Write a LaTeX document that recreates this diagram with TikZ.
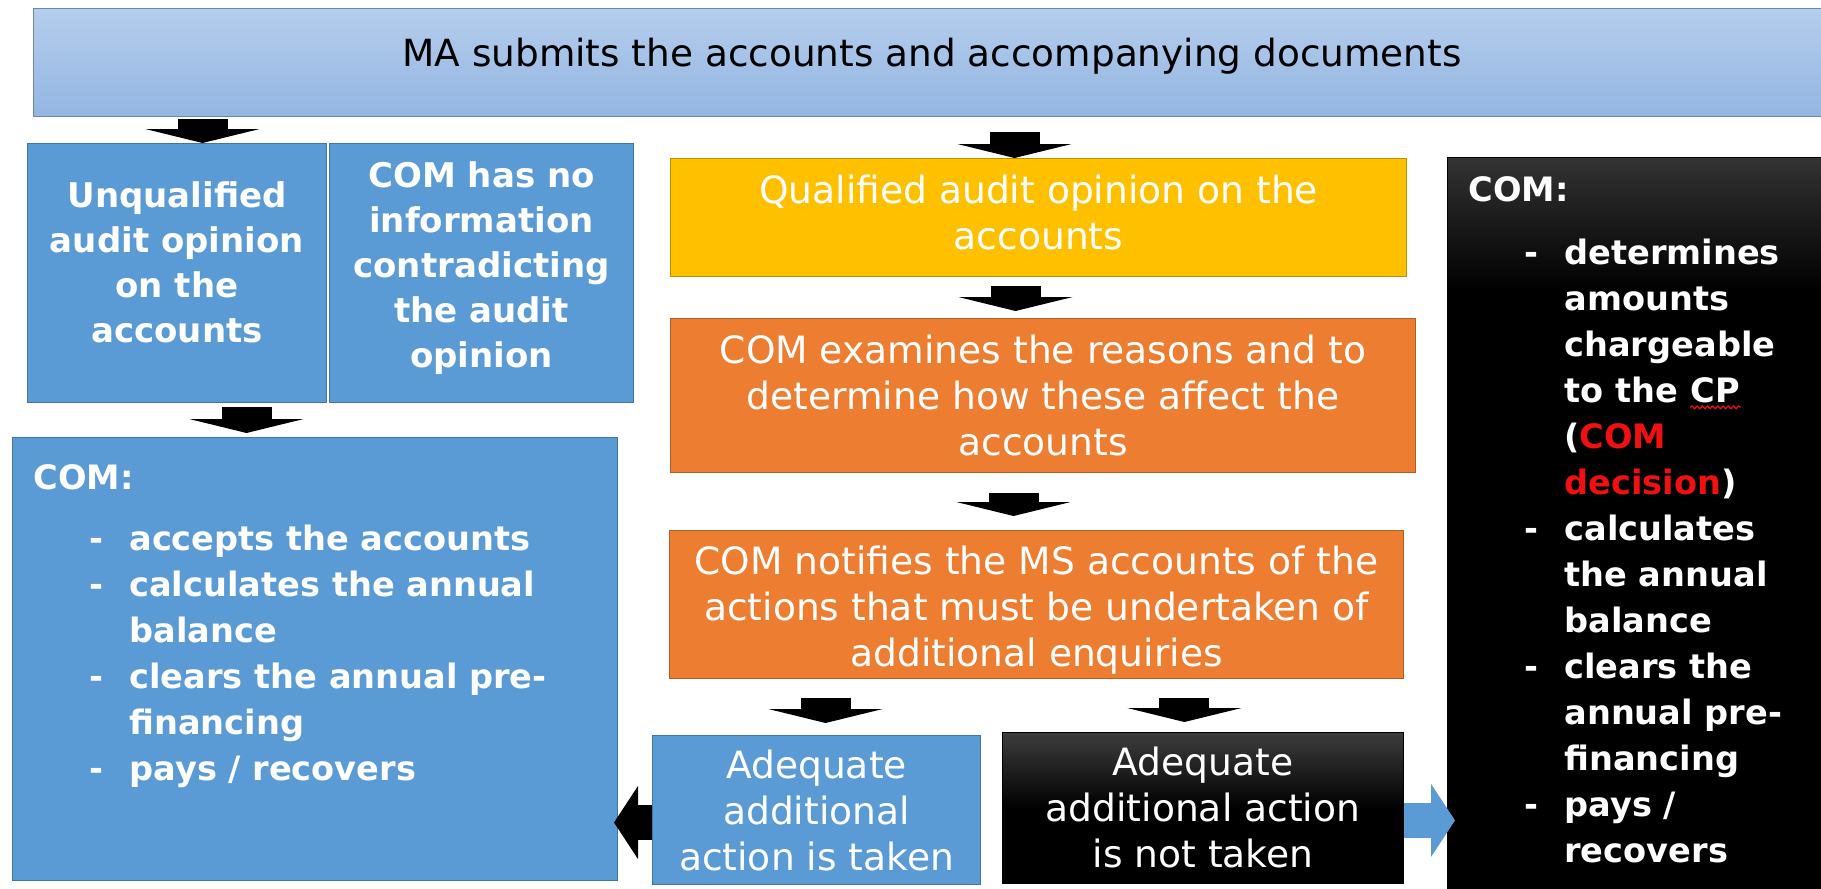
\documentclass[tikz,border=0pt]{standalone}
\usepackage{fontspec}
\setmainfont{DejaVu Sans}
\usetikzlibrary{arrows.meta,positioning,calc,decorations.pathmorphing}

\definecolor{stepblue}{HTML}{5B9BD5}
\definecolor{stepyellow}{HTML}{FFC000}
\definecolor{steporange}{HTML}{ED7D31}
\definecolor{bannertop}{HTML}{B5CDEC}
\definecolor{bannerbot}{HTML}{93B6E2}
\definecolor{comred}{HTML}{F01010}

\pgfdeclareverticalshading{halfdark}{100bp}{color(0bp)=(black); color(50bp)=(black);
  color(75bp)=(black!76); color(100bp)=(black!76)}
\pgfdeclareverticalshading{topdark}{100bp}{color(0bp)=(black); color(66bp)=(black);
  color(75bp)=(black!80); color(100bp)=(black!80)}

\newcommand{\dashitem}{\hspace*{28pt}\makebox[20pt][l]{-}}
\newcommand{\dashcont}{\hspace*{48pt}}
\newcommand{\spellmark}[1]{\tikz[baseline=(cpword.base)]{
  \node[inner sep=0pt, text=white] (cpword) {#1};
  \draw[comred, line width=0.6pt, decorate, decoration={snake, amplitude=0.7pt, segment length=2.6pt}]
    ([yshift=-2.5pt]cpword.base west) -- ([yshift=-2.5pt]cpword.base east);}}

\tikzset{
  stepbox/.style={draw=#1!75!black, fill=#1, line width=0.5pt, inner sep=0pt,
    anchor=north west, text=white, align=center},
  darkbox/.style={draw=black, shading=#1, inner sep=0pt, anchor=north west,
    text=white, align=center},
  boxtext/.style={text=white, align=center, inner sep=0pt},
  midtext/.style={font=\fontsize{18.8pt}{23pt}\selectfont},
  sidetext/.style={font=\fontsize{17pt}{22.5pt}\selectfont\bfseries},
  listtext/.style={font=\fontsize{16.8pt}{23pt}\selectfont\bfseries, text=white,
    align=left, anchor=north west, inner sep=0pt},
  downarrow/.style={draw=black, line width=25pt, -{Triangle[width=57pt,length=7pt]}},
  sidearrow/.style={draw=#1, line width=17.5pt, -{Triangle[width=36pt,length=12pt]}},
}

\begin{document}
\begin{tikzpicture}[x=0.5pt, y=-0.5pt]

    \path[use as bounding box, fill=white] (0,0) rectangle (1821,889);
    \clip (0,0) rectangle (1821,889);

    \node[stepbox=bannerbot, top color=bannertop, bottom color=bannerbot, text=black,
      minimum width=898.5pt, minimum height=54pt,
      font=\fontsize{18.7pt}{22pt}\selectfont] (submit) at (33,8)
      {\raisebox{10pt}{MA submits the accounts and accompanying documents}};

    \node[stepbox=stepblue, minimum width=149.5pt, minimum height=129.5pt] (unqualified) at (27,143) {};
    \node[boxtext, sidetext] (unqtext) at ([yshift=5.5pt]unqualified.center)
      {Unqualified\\audit opinion\\on the\\accounts};
    \node[stepbox=stepblue, minimum width=152pt, minimum height=129.5pt] (noinfo) at (329,143) {};
    \node[boxtext, sidetext] (noinfotext) at ([yshift=2.5pt]noinfo.center)
      {COM has no\\information\\contradicting\\the audit\\opinion};

    \node[stepbox=stepblue, minimum width=302.5pt, minimum height=221.5pt] (accepts) at (12,437) {};
    \node[listtext] (acceptlist) at (33,464)
      {COM:\\[7.5pt]
       \dashitem accepts the accounts\\
       \dashitem calculates the annual\\
       \dashcont balance\\
       \dashitem clears the annual pre-\\
       \dashcont financing\\
       \dashitem pays / recovers};

    \node[stepbox=stepyellow, minimum width=368pt, minimum height=59pt] (qualified) at (670,158) {};
    \node[boxtext, midtext] (qualtext) at ([yshift=2.5pt]qualified.center)
      {Qualified audit opinion on the\\accounts};
    \node[stepbox=steporange, midtext, minimum width=372.5pt, minimum height=77pt]
      (examine) at (670,318) {COM examines the reasons and to\\determine how these affect the\\accounts};
    \node[stepbox=steporange, minimum width=367pt, minimum height=74pt] (notify) at (669,530) {};
    \node[boxtext, midtext] (notifytext) at ([yshift=-3pt]notify.center)
      {COM notifies the MS accounts of the\\actions that must be undertaken of\\additional enquiries};
    \node[stepbox=stepblue, midtext, minimum width=164pt, minimum height=74.5pt]
      (taken) at (652,735) {Adequate\\additional\\action is taken};
    \node[darkbox=halfdark, midtext, minimum width=200.5pt, minimum height=75.5pt]
      (nottaken) at (1002,732) {Adequate\\additional action\\is not taken};

    \node[darkbox=topdark, minimum width=191.5pt, minimum height=369pt] (charge) at (1447,157) {};
    \node[listtext] (chargelist) at (1468,176)
      {COM:\\[8.5pt]
       \dashitem determines\\
       \dashcont amounts\\
       \dashcont chargeable\\
       \dashcont to the \spellmark{CP}\\
       \dashcont (\textcolor{comred}{COM}\\
       \dashcont \textcolor{comred}{decision})\\
       \dashitem calculates\\
       \dashcont the annual\\
       \dashcont balance\\
       \dashitem clears the\\
       \dashcont annual pre-\\
       \dashcont financing\\
       \dashitem pays /\\
       \dashcont recovers};

    \draw[downarrow, shorten <=1pt]
      ([xshift=12.75pt]unqualified.north |- submit.south) -- ([xshift=12.75pt]unqualified.north);
    \draw[downarrow, shorten <=2pt, shorten >=2pt]
      ([xshift=34.75pt]unqualified.south) -- ([xshift=34.75pt]unqualified.south |- accepts.north);
    \draw[downarrow, shorten <=7.5pt]
      ([xshift=-12pt]qualified.north |- submit.south) -- ([xshift=-12pt]qualified.north);
    \draw[downarrow, shorten <=4.5pt, shorten >=3.5pt]
      ([xshift=-11.5pt]qualified.south) -- ([xshift=-11.5pt]qualified.south |- examine.north);
    \draw[downarrow, shorten <=10pt, shorten >=7pt]
      ([xshift=-14.75pt]examine.south) -- ([xshift=-14.75pt]examine.south |- notify.north);
    \draw[downarrow, shorten <=9.5pt, shorten >=6pt]
      ([xshift=4.5pt]taken.north |- notify.south) -- ([xshift=4.5pt]taken.north);
    \draw[downarrow, shorten <=9.5pt, shorten >=5pt]
      ([xshift=-9.25pt]nottaken.north |- notify.south) -- ([xshift=-9.25pt]nottaken.north);

    \draw[sidearrow=black, shorten >=-2pt]
      ([yshift=-6.25pt]taken.west) -- ([yshift=-6.25pt]taken.west -| accepts.east);
    \draw[sidearrow=stepblue, shorten >=-4pt]
      ([yshift=-6.25pt]nottaken.east) -- ([yshift=-6.25pt]nottaken.east -| charge.west);

\end{tikzpicture}
\end{document}
